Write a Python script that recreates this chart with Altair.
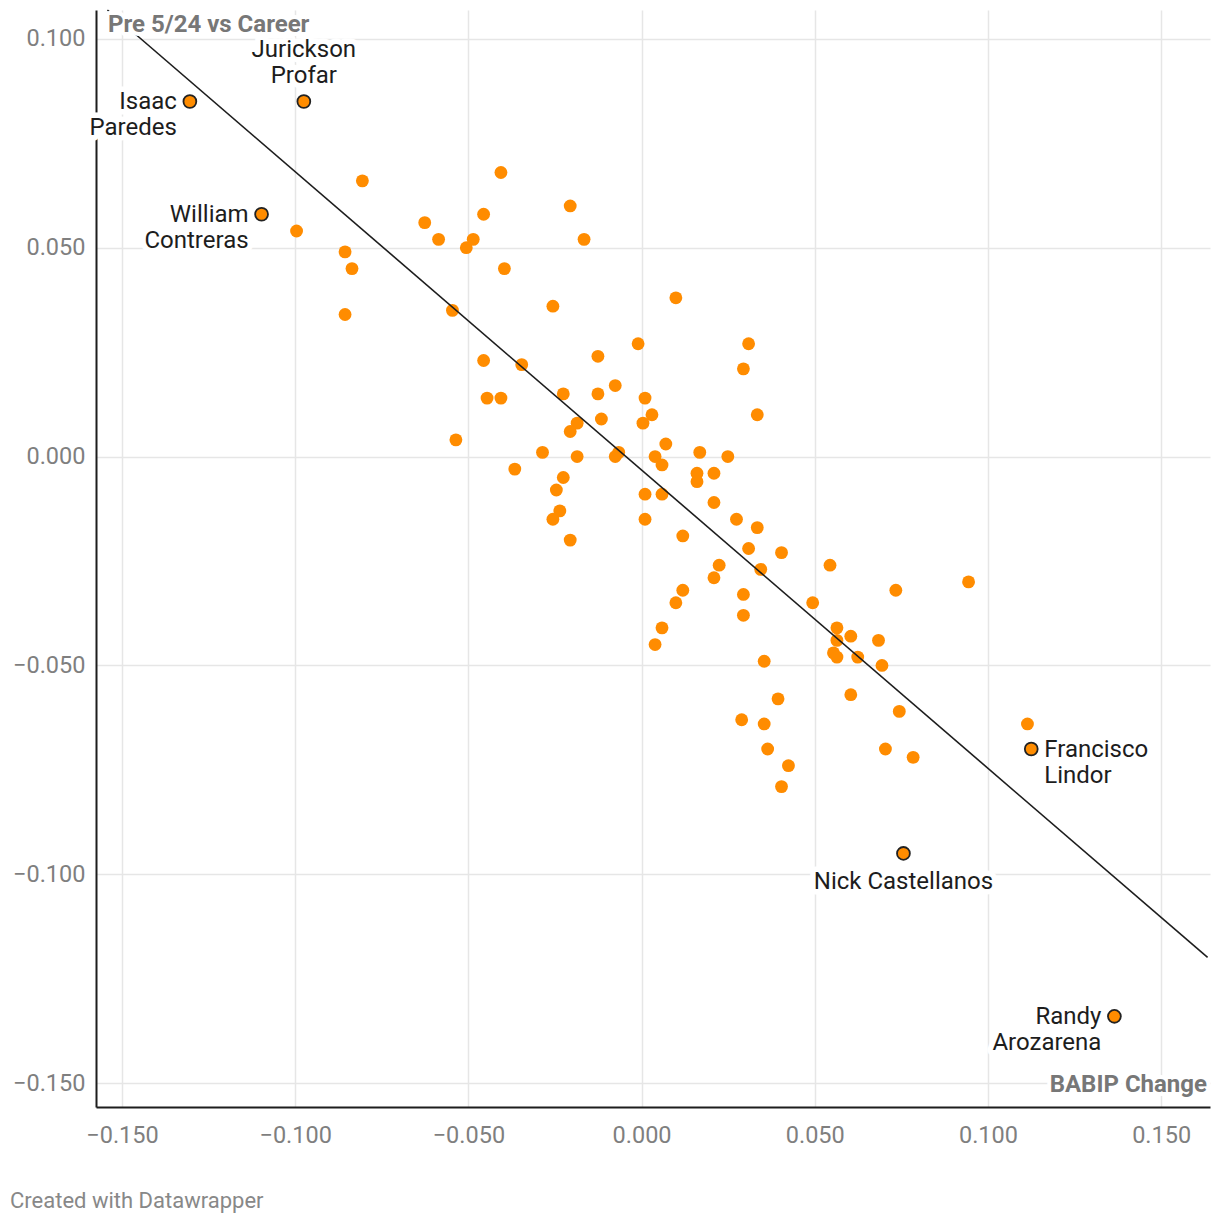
import altair as alt
import pandas as pd

# ---- data ----
bx = [-0.0806, -0.0996, -0.0856, -0.0836, -0.0856, -0.0626, -0.0586, -0.0506, -0.0486, -0.0456,
      -0.0406, -0.0206, -0.0166, -0.0396, -0.0256, -0.0546, 0.0099, -0.0456, -0.0346, -0.0126,
      -0.0010, 0.0309, 0.0294, -0.0446, -0.0406, -0.0226, -0.0126, -0.0076, 0.0010, 0.0334,
      0.0030, -0.0116, -0.0186, -0.0206, 0.0004, -0.0536, -0.0286, -0.0366, -0.0186, -0.0076,
      -0.0066, 0.0070, 0.0039, 0.0059, 0.0168, 0.0249, 0.0160, 0.0209, 0.0160, -0.0226,
      -0.0246, 0.0010, 0.0059, 0.0209, -0.0236, -0.0256, 0.0010, 0.0274, 0.0334, -0.0206,
      0.0119, 0.0309, 0.0404, 0.0224, 0.0344, 0.0544, 0.0209, 0.0944, 0.0119, 0.0734,
      0.0099, 0.0294, 0.0494, 0.0294, 0.0059, 0.0564, 0.0039, 0.0604, 0.0564, 0.0684,
      0.0554, 0.0564, 0.0624, 0.0694, 0.0354, 0.0604, 0.0394, 0.0744, 0.0289, 0.0354,
      0.1114, 0.0364, 0.0704, 0.0784, 0.0424, 0.0404]
by = [0.066, 0.054, 0.049, 0.045, 0.034, 0.056, 0.052, 0.050, 0.052, 0.058,
      0.068, 0.060, 0.052, 0.045, 0.036, 0.035, 0.038, 0.023, 0.022, 0.024,
      0.027, 0.027, 0.021, 0.014, 0.014, 0.015, 0.015, 0.017, 0.014, 0.010,
      0.010, 0.009, 0.008, 0.006, 0.008, 0.004, 0.001, -0.003, 0.000, 0.000,
      0.001, 0.003, 0.000, -0.002, 0.001, 0.000, -0.004, -0.004, -0.006, -0.005,
      -0.008, -0.009, -0.009, -0.011, -0.013, -0.015, -0.015, -0.015, -0.017, -0.020,
      -0.019, -0.022, -0.023, -0.026, -0.027, -0.026, -0.029, -0.030, -0.032, -0.032,
      -0.035, -0.033, -0.035, -0.038, -0.041, -0.041, -0.045, -0.043, -0.044, -0.044,
      -0.047, -0.048, -0.048, -0.050, -0.049, -0.057, -0.058, -0.061, -0.063, -0.064,
      -0.064, -0.070, -0.070, -0.072, -0.074, -0.079]

names = ["Isaac Paredes", "Jurickson Profar", "William Contreras",
         "Francisco Lindor", "Nick Castellanos", "Randy Arozarena"]
name_x = [-0.1304, -0.0975, -0.1097, 0.1125, 0.0756, 0.1365]
name_y = [0.085, 0.085, 0.058, -0.070, -0.095, -0.134]
name_text = ["Isaac\u00a0\nParedes", "Jurickson\nProfar", "William\u00a0\nContreras",
             "Francisco\nLindor", "Nick Castellanos", "Randy\u00a0\nArozarena"]
name_pos = ["left", "above", "left", "right", "below", "left"]

trend_x = [-0.1542, 0.1634]
trend_y = [0.1069, -0.1199]

x_ticks = [-0.15, -0.10, -0.05, 0.0, 0.05, 0.10, 0.15]
y_ticks = [-0.15, -0.10, -0.05, 0.0, 0.05, 0.10]

x_title = "BABIP Change"
y_title = "Pre 5/24 vs Career"
footer = "Created with Datawrapper"

# ---- frames ----
pts = pd.DataFrame({"x": bx, "y": by})
lab = pd.DataFrame({"name": names, "x": name_x, "y": name_y,
                    "label": name_text, "pos": name_pos})
trend = pd.DataFrame({"x": trend_x, "y": trend_y})

W, H = 1114, 1097
FONT = "Roboto"
ORANGE = "#ff8c00"

xs = alt.Scale(domain=[-0.1575, 0.1641], nice=False, zero=False)
ys = alt.Scale(domain=[-0.1557, 0.1069], nice=False, zero=False)

X = alt.X("x:Q", scale=xs, title=None,
          axis=alt.Axis(values=x_ticks, format=".3f", labelFontSize=23.5, labelColor="#7f7f7f",
                        labelFont=FONT, tickSize=0, labelPadding=16, domainColor="#1d1d1d",
                        domainWidth=2, gridColor="#e6e6e6", gridWidth=1.5, labelFlush=False,
                        zindex=0))
Y = alt.Y("y:Q", scale=ys, title=None,
          axis=alt.Axis(values=y_ticks, format=".3f", labelFontSize=23.5, labelColor="#7f7f7f",
                        labelFont=FONT, tickSize=0, labelPadding=11, domainColor="#1d1d1d",
                        domainWidth=2, gridColor="#e6e6e6", gridWidth=1.5, labelFlush=False,
                        zindex=0))
Xp = alt.X("x:Q", scale=xs)
Yp = alt.Y("y:Q", scale=ys)

base_pts = alt.Chart(pts).mark_circle(size=165, color=ORANGE, opacity=1).encode(x=X, y=Y)

line = alt.Chart(trend).mark_line(color="#1d1d1d", strokeWidth=1.6).encode(x=Xp, y=Yp)

lab_pts = alt.Chart(lab).mark_point(filled=True, fill=ORANGE, stroke="#222222",
                                    strokeWidth=1.8, size=165, opacity=1).encode(x=Xp, y=Yp)

layers = [base_pts, line, lab_pts]

groups = {
    "left": dict(align="right", dx=-13, dy=8),
    "right": dict(align="left", dx=13, dy=8),
    "above": dict(align="center", dx=0, dy=-44),
    "below": dict(align="center", dx=0, dy=36),
}
for pos, opts in groups.items():
    sub = alt.Chart(lab).transform_filter(alt.datum.pos == pos)
    common = dict(font=FONT, fontSize=24, baseline="alphabetic", lineBreak="\n",
                  lineHeight=26, **opts)
    layers.append(sub.mark_text(color="white", stroke="white", strokeWidth=11,
                                strokeJoin="round", **common).encode(x=Xp, y=Yp, text="label:N"))
    layers.append(sub.mark_text(color="#1d1d1d", **common).encode(x=Xp, y=Yp, text="label:N"))


def fixed_text(txt, x, y, align, size, weight, color, halo=True):
    d = alt.Chart(pd.DataFrame({"t": [txt]}))
    out = []
    kw = dict(font=FONT, fontSize=size, fontWeight=weight, align=align, baseline="alphabetic")
    if halo:
        out.append(d.mark_text(color="white", stroke="white", strokeWidth=8,
                               strokeJoin="round", **kw)
                   .encode(x=alt.value(x), y=alt.value(y), text="t:N"))
    out.append(d.mark_text(color=color, **kw)
               .encode(x=alt.value(x), y=alt.value(y), text="t:N"))
    return out


layers += fixed_text(y_title, 12, 22, "left", 24, "bold", "#777777")
layers += fixed_text(x_title, 1111, 1082, "right", 24, "bold", "#777777")
layers += fixed_text(footer, -86, 1198, "left", 22, "normal", "#888888", halo=False)

chart = alt.layer(*layers).properties(
    width=W, height=H,
    autosize=alt.AutoSizeParams(type="none"),
    padding={"left": 88, "top": 2, "right": 2, "bottom": 110},
    background="white",
).configure_view(stroke=None)

chart.save("out.html", embed_options={"renderer": "svg", "actions": False})
